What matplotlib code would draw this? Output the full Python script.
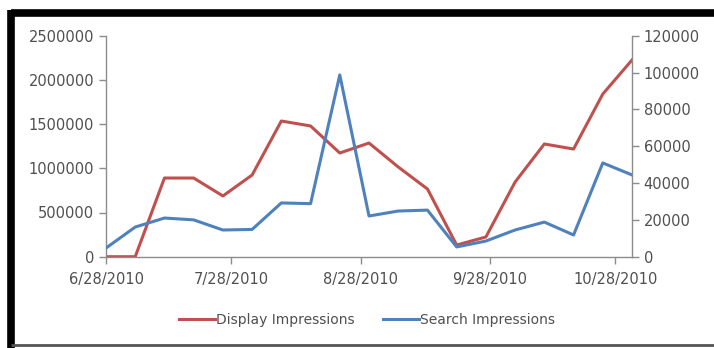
import datetime as dt
import matplotlib
matplotlib.use('Agg')
import matplotlib.pyplot as plt
from matplotlib.lines import Line2D

# weekly points, 6/28/2010 .. 11/1/2010
start = dt.date(2010, 6, 28)
weeks = [start + dt.timedelta(days=7 * i) for i in range(19)]

display_impr = [0, 0, 890000, 890000, 687000, 924000, 1535000, 1479000, 1173000,
                1286000, 1015000, 766000, 132000, 223000, 845000, 1275000,
                1218000, 1840000, 2225000]
search_impr = [4700, 16100, 21000, 20000, 14500, 14800, 29200, 28800, 98700,
               22100, 24800, 25300, 5300, 8500, 14500, 18800, 11800, 50900, 44400]

tick_dates = [dt.date(2010, m, 28) for m in (6, 7, 8, 9, 10)]
left_ticks = [0, 500000, 1000000, 1500000, 2000000, 2500000]
right_ticks = [0, 20000, 40000, 60000, 80000, 100000, 120000]

RED = '#C0504D'
BLUE = '#4F81BD'
AXIS = '#8C8C8C'
TXT = '#505050'

W, H = 714, 348
fig = plt.figure(figsize=(W / 100, H / 100), dpi=100)
ax = fig.add_axes([106 / W, (H - 256.7) / H, (632 - 106) / W, (256.7 - 35.7) / H])
ax2 = ax.twinx()

ax.plot(weeks, display_impr, color=RED, lw=2.2, solid_joinstyle='round')
ax2.plot(weeks, search_impr, color=BLUE, lw=2.2, solid_joinstyle='round')

ax.set_xlim(start, dt.date(2010, 11, 1))
ax.set_ylim(0, 2500000)
ax2.set_ylim(0, 120000)
ax.set_yticks(left_ticks)
ax.set_yticklabels([str(v) for v in left_ticks])
ax2.set_yticks(right_ticks)
ax2.set_yticklabels([str(v) for v in right_ticks])
ax.set_xticks(tick_dates)
ax.set_xticklabels([f'{d.month}/{d.day}/{d.year}' for d in tick_dates])

for a in (ax, ax2):
    for s in a.spines.values():
        s.set_visible(False)
    a.tick_params(colors=AXIS, labelcolor=TXT, labelsize=10.5, length=5, width=1)
ax.spines['left'].set_visible(True)
ax.spines['bottom'].set_visible(True)
ax2.spines['right'].set_visible(True)
for s in (ax.spines['left'], ax.spines['bottom'], ax2.spines['right']):
    s.set_color(AXIS)
    s.set_linewidth(1)
ax.tick_params(axis='x', pad=6)

handles = [Line2D([], [], color=RED, lw=2.2), Line2D([], [], color=BLUE, lw=2.2)]
fig.legend(handles, ['Display Impressions', 'Search Impressions'], loc='center',
           bbox_to_anchor=(367 / W, 1 - 320 / H), ncol=2, frameon=False,
           fontsize=10, handlelength=2.6, handletextpad=0.1, columnspacing=2.0,
           labelcolor=TXT)

# thick black frame around the chart (top and left, gray bottom)
fig.add_artist(Line2D([11.5 / W, 1.0], [1 - 12.5 / H] * 2, color='black', lw=5.5,
                      transform=fig.transFigure, solid_capstyle='butt'))
fig.add_artist(Line2D([11.5 / W] * 2, [1 - 9.5 / H, 0.0], color='black', lw=5.5,
                      transform=fig.transFigure, solid_capstyle='butt'))
fig.add_artist(Line2D([11.5 / W, 1.0], [1 - 345 / H] * 2, color='#555555', lw=2,
                      transform=fig.transFigure, solid_capstyle='butt'))

fig.savefig('out.png', dpi=100)
